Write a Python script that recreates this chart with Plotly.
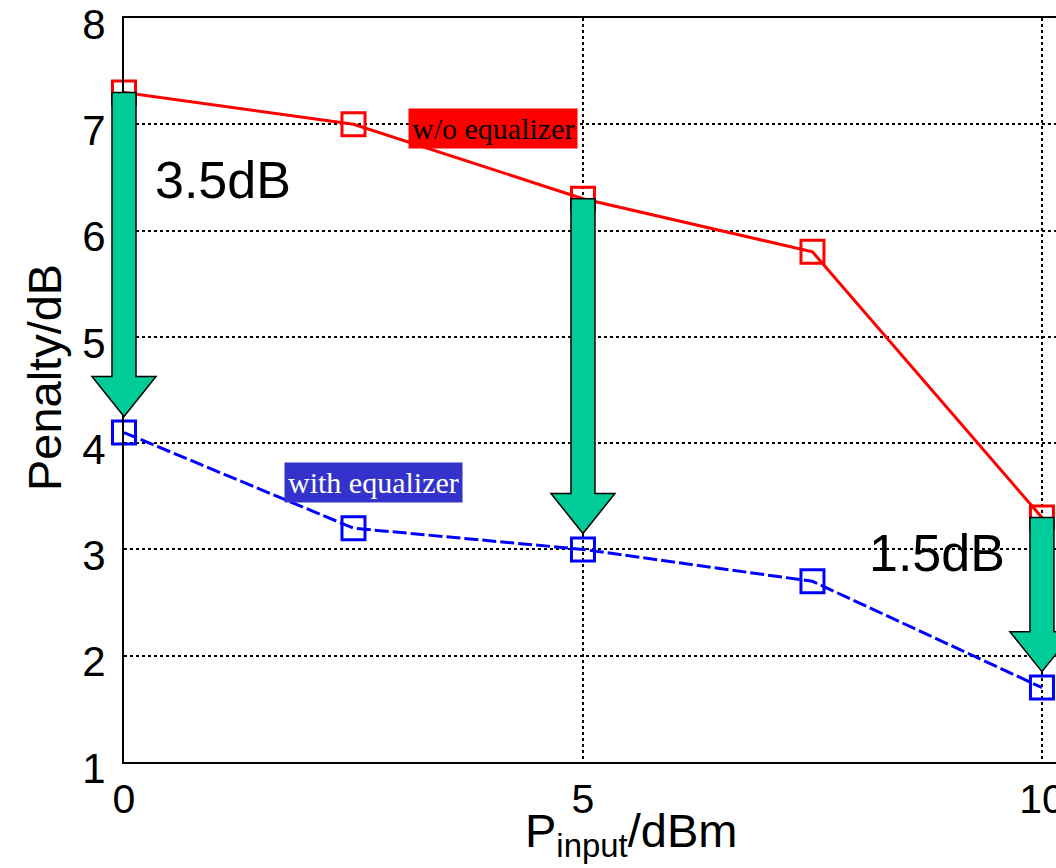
import plotly.graph_objects as go

# Data
p_input = [0, 2.5, 5, 7.5, 10]
penalty_wo = [7.3, 7.0, 6.3, 5.8, 3.3]
penalty_with = [4.1, 3.2, 3.0, 2.7, 1.7]
arrow_x = [0, 5, 10]
x_ticks = [0, 5, 10]
y_ticks = [1, 2, 3, 4, 5, 6, 7, 8]

X_RANGE = [0, 10.153]
Y_RANGE = [1, 8]

fig = go.Figure()
fig.add_trace(go.Scatter(
    x=p_input, y=penalty_wo, mode="lines+markers",
    line=dict(color="#ff0000", width=3),
    marker=dict(symbol="square-open", size=23, color="#ff0000", line=dict(width=3)),
    showlegend=False, cliponaxis=False))
fig.add_trace(go.Scatter(
    x=p_input, y=penalty_with, mode="lines+markers",
    line=dict(color="#0000ff", width=3, dash="14px,4px"),
    marker=dict(symbol="square-open", size=23, color="#0000ff", line=dict(width=3)),
    showlegend=False, cliponaxis=False))


def px(xv):
    return (xv - X_RANGE[0]) / (X_RANGE[1] - X_RANGE[0])


def py(yv):
    return (yv - Y_RANGE[0]) / (Y_RANGE[1] - Y_RANGE[0])


# Arrows (green, black outline) from red to blue values (paper coords, unclipped)
px_per_x = 91.8
px_per_y = 106.3
shaft_hw = 12 / px_per_x
head_hw = 32 / px_per_x
head_len = 40 / px_per_y
gap = 0.15
for xv in arrow_x:
    i = p_input.index(xv)
    top = penalty_wo[i]
    tip = penalty_with[i] + gap
    hb = tip + head_len
    pts = [(xv - shaft_hw, top), (xv + shaft_hw, top), (xv + shaft_hw, hb),
           (xv + head_hw, hb), (xv, tip), (xv - head_hw, hb), (xv - shaft_hw, hb)]
    path = "M " + " L ".join(f"{px(a):.5f} {py(b):.5f}" for a, b in pts) + " Z"
    fig.add_shape(type="path", path=path, xref="paper", yref="paper",
                  fillcolor="#00cc99", line=dict(color="black", width=1.5), layer="above")

fig.add_annotation(x=1.08, y=6.475, text="3.5dB", showarrow=False,
                   font=dict(family="Arial, Liberation Sans", size=52, color="black"))
fig.add_annotation(x=8.86, y=2.966, text="1.5dB", showarrow=False,
                   font=dict(family="Arial, Liberation Sans", size=52, color="black"))
fig.add_annotation(x=4.02, y=6.964, text="w/o equalizer", showarrow=False,
                   bgcolor="#ff0000", borderpad=3,
                   font=dict(family="Times New Roman, Liberation Serif", size=30, color="black"))
fig.add_annotation(x=2.72, y=3.634, text="with equalizer", showarrow=False,
                   bgcolor="#3333cc", borderpad=3,
                   font=dict(family="Times New Roman, Liberation Serif", size=30, color="white"))

# Axis titles (positioned as in the reference)
fig.add_annotation(xref="paper", yref="paper", x=0.544, y=0, yanchor="middle", yshift=-72,
                   text="P<sub>input</sub>/dBm", showarrow=False,
                   font=dict(family="Arial, Liberation Sans", size=47, color="black"))
fig.add_annotation(xref="paper", yref="paper", x=0, y=0.516, xanchor="center", xshift=-80,
                   text="Penalty/dB", textangle=-90, showarrow=False,
                   font=dict(family="Arial, Liberation Sans", size=47, color="black"))

fig.update_xaxes(range=X_RANGE, tickvals=x_ticks, ticktext=[str(v) for v in x_ticks],
                 showgrid=True, gridcolor="black", gridwidth=1.5, griddash="dot",
                 showline=True, linecolor="black", linewidth=2, mirror=True,
                 zeroline=False, ticks="", ticklabeloverflow="allow", automargin=False,
                 tickfont=dict(family="Arial, Liberation Sans", size=41, color="black"))
fig.update_yaxes(range=Y_RANGE, tickvals=y_ticks,
                 showgrid=True, gridcolor="black", gridwidth=1.5, griddash="dot",
                 showline=True, linecolor="black", linewidth=2, mirror=False,
                 zeroline=False, ticks="", ticklabelshift=6, ticklabelstandoff=8,
                 ticklabeloverflow="allow", automargin=False,
                 tickfont=dict(family="Arial, Liberation Sans", size=42, color="black"))

fig.update_layout(width=1056, height=868,
                  margin=dict(l=124, r=0, t=18, b=106, autoexpand=False),
                  paper_bgcolor="white", plot_bgcolor="white", showlegend=False)

fig.write_html("out.html")
